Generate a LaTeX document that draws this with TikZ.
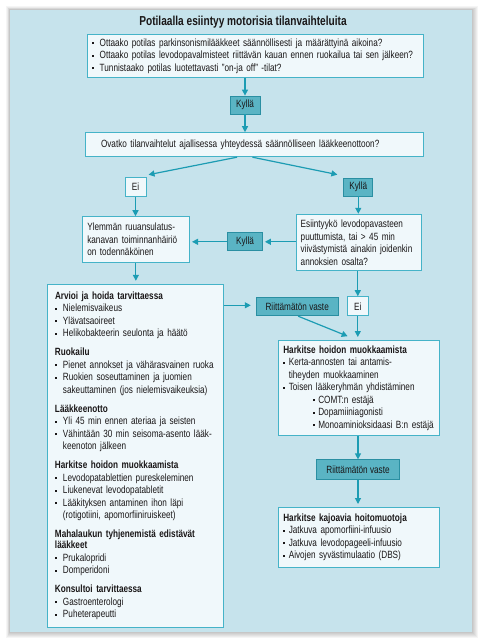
\documentclass[tikz,border=0pt]{standalone}
\usepackage{fontspec}
\setmainfont{Liberation Sans}[FakeStretch=0.78]
\usetikzlibrary{arrows.meta}
\definecolor{panel}{HTML}{C6E3EC}
\definecolor{boxfill}{HTML}{F0F8FB}
\definecolor{boxline}{HTML}{45B3C8}
\definecolor{labfill}{HTML}{5AB4C4}
\definecolor{labline}{HTML}{2A8FA2}
\definecolor{arr}{HTML}{1C9CB3}
\definecolor{ink}{HTML}{1A1718}
\newcommand\bu{\makebox[8pt][l]{\raisebox{2pt}{\rule{2pt}{2pt}}}}
\newcommand\bs{\makebox[5.5pt][l]{\raisebox{2pt}{\rule{2pt}{2pt}}}}
\tikzset{
  txt/.style={font=\fontsize{10.5}{12.5}\selectfont, text=ink},
  tbox/.style={txt, draw=boxline, fill=boxfill, line width=1pt, inner ysep=0pt, align=left},
  wlab/.style={txt, draw=boxline, fill=boxfill, line width=1pt, inner sep=0pt},
  dlab/.style={txt, draw=labline, fill=labfill, line width=0.8pt, inner sep=0pt},
  conn/.style={draw=arr, line width=1.2pt, -{Triangle[length=6pt,width=6pt]}}
}
\begin{document}
\begin{tikzpicture}[x=1pt,y=-1pt]
\useasboundingbox (0,0) rectangle (480,641);
\fill[white] (0,0) rectangle (480,641);
% shadow
\foreach \i in {1,...,6}{
  \fill[black,opacity=0.04] (10-\i*0.6,10-\i*0.6) rectangle (472+\i,632+\i);
}
\fill[panel] (10,10) rectangle (472,632);

\node[txt, font=\fontsize{13}{15}\selectfont\bfseries] (title) at (243,22) {Potilaalla esiintyy motorisia tilanvaihteluita};

\node[tbox, minimum width=335.6, minimum height=43, text width=327.6, inner xsep=4] (box1) at (255.5,55.8)
{\bu Ottaako potilas parkinsonismilääkkeet säännöllisesti ja määrättyinä aikoina?\\
\bu \mbox{Ottaako potilas levodopavalmisteet riittävän kauan ennen ruokailua tai sen jälkeen?}\\
\bu Tunnistaako potilas luotettavasti ”on-ja off” -tilat?};

\node[dlab, minimum width=30, minimum height=18] (kylla1) at (245,105) {Kyllä};

\node[tbox, minimum width=337.6, minimum height=24, text width=307, inner xsep=15.3] (box2) at (254.5,144.7)
{\mbox{Ovatko tilanvaihtelut ajallisessa yhteydessä säännölliseen lääkkeenottoon?}};

\node[wlab, minimum width=21, minimum height=19] (ei1) at (135.5,186.7) {Ei};
\node[dlab, minimum width=29, minimum height=18] (kylla2) at (358.3,187) {Kyllä};

\node[tbox, minimum width=106.3, minimum height=45.6, text width=97.1, inner xsep=4.6] (yl) at (135.85,239.5)
{Ylemmän ruuansulatus-\\kanavan toiminnanhäiriö\\on todennäköinen};

\node[tbox, minimum width=124.3, minimum height=56.4, text width=116.3, inner xsep=4] (esi) at (358.85,242.5)
{Esiintyykö levodopavasteen\\puuttumista, tai > 45 min\\\mbox{viivästymistä ainakin joidenkin}\\annoksien osalta?};

\node[dlab, minimum width=35, minimum height=18] (kylla3) at (245,241.8) {Kyllä};

\node[tbox, minimum width=176, minimum height=342.7, text width=160.6, inner xsep=7.7] (arv) at (135.3,455.65)
{\textbf{Arvioi ja hoida tarvittaessa}\\
\bu Nielemisvaikeus\\
\bu Ylävatsaoireet\\
\bu Helikobakteerin seulonta ja häätö\\[6.5pt]
\textbf{Ruokailu}\\
\bu \mbox{Pienet annokset ja vähärasvainen ruoka}\\
\bu Ruokien soseuttaminen ja juomien\\
\hspace*{8pt}\mbox{sakeuttaminen (jos nielemisvaikeuksia)}\\[6.5pt]
\textbf{Lääkkeenotto}\\
\bu Yli 45 min ennen ateriaa ja seisten\\
\bu \mbox{Vähintään 30 min seisoma-asento lääk-}\\
\hspace*{8pt}keenoton jälkeen\\[6.5pt]
\textbf{Harkitse hoidon muokkaamista}\\
\bu Levodopatablettien pureskeleminen\\
\bu Liukenevat levodopatabletit\\
\bu Lääkityksen antaminen ihon läpi\\
\hspace*{8pt}(rotigotiini, apomorfiiniruiskeet)\\[6.5pt]
\textbf{\mbox{Mahalaukun tyhjenemistä edistävät}}\\[-1.5pt]
\textbf{lääkkeet}\\
\bu Prukalopridi\\
\bu Domperidoni\\[6.5pt]
\textbf{Konsultoi tarvittaessa}\\
\bu Gastroenterologi\\
\bu Puheterapeutti};

\node[dlab, minimum width=82, minimum height=18] (riit1) at (297.2,306.8) {Riittämätön vaste};
\node[wlab, minimum width=21, minimum height=19] (ei3) at (357.8,306.2) {Ei};

\node[tbox, minimum width=160.7, minimum height=95.7, text width=150.7, inner xsep=5] (hark) at (358.65,387.85)
{\textbf{Harkitse hoidon muokkaamista}\\
\bs Kerta-annosten tai antamis-\\
\hspace*{5.5pt}tiheyden muokkaaminen\\
\bs \mbox{Toisen lääkeryhmän yhdistäminen}\\
\hspace*{29.5pt}\bs COMT:n estäjä\\
\hspace*{29.5pt}\bs Dopamiiniagonisti\\
\hspace*{29.5pt}\bs \mbox{Monoaminioksidaasi B:n estäjä}};

\node[dlab, minimum width=82.6, minimum height=20] (riit2) at (358,469.8) {Riittämätön vaste};

\node[tbox, minimum width=160.7, minimum height=59.5, text width=150.7, inner xsep=5] (kaj) at (358.65,537.25)
{\textbf{Harkitse kajoavia hoitomuotoja}\\
\bs Jatkuva apomorfiini-infuusio\\
\bs Jatkuva levodopageeli-infuusio\\
\bs Aivojen syvästimulaatio (DBS)};

% connectors
\draw[conn] (box1.south -| kylla1) -- (kylla1);
\draw[conn] (kylla1) -- (kylla1 |- box2.north);
\draw[conn] ([xshift=-17.5pt]box2.south) -- ([shift={(2,-2)}]ei1.north east);
\draw[conn] ([xshift=-2pt]box2.south) -- ([shift={(-6,-3)}]kylla2.north west);
\draw[conn] (ei1) -- (ei1 |- yl.north);
\draw[conn] (kylla2) -- (kylla2 |- esi.north);
\draw[conn, shorten >=2pt] (kylla3 -| esi.west) -- (kylla3.east);
\draw[conn, shorten >=2.5pt] (kylla3.west) -- (kylla3 -| yl.east);
\draw[conn, shorten >=3pt] (yl) -- (yl |- arv.north);
\draw[conn] (esi.south -| ei3) -- (ei3.north);
\draw[conn, shorten >=5pt] ([yshift=1.5pt]riit1 -| arv.east) -- ([yshift=1.5pt]riit1.west);
\draw[conn] ([xshift=1pt]riit1.south) -- ([shift={(-11,-3.3)}]hark.north);
\draw[conn, shorten >=2.5pt] (ei3) -- (ei3 |- hark.north);
\draw[conn] (hark.south -| riit2) -- (riit2.north);
\draw[conn, shorten >=3pt] (riit2) -- (riit2 |- kaj.north);
\end{tikzpicture}
\end{document}
